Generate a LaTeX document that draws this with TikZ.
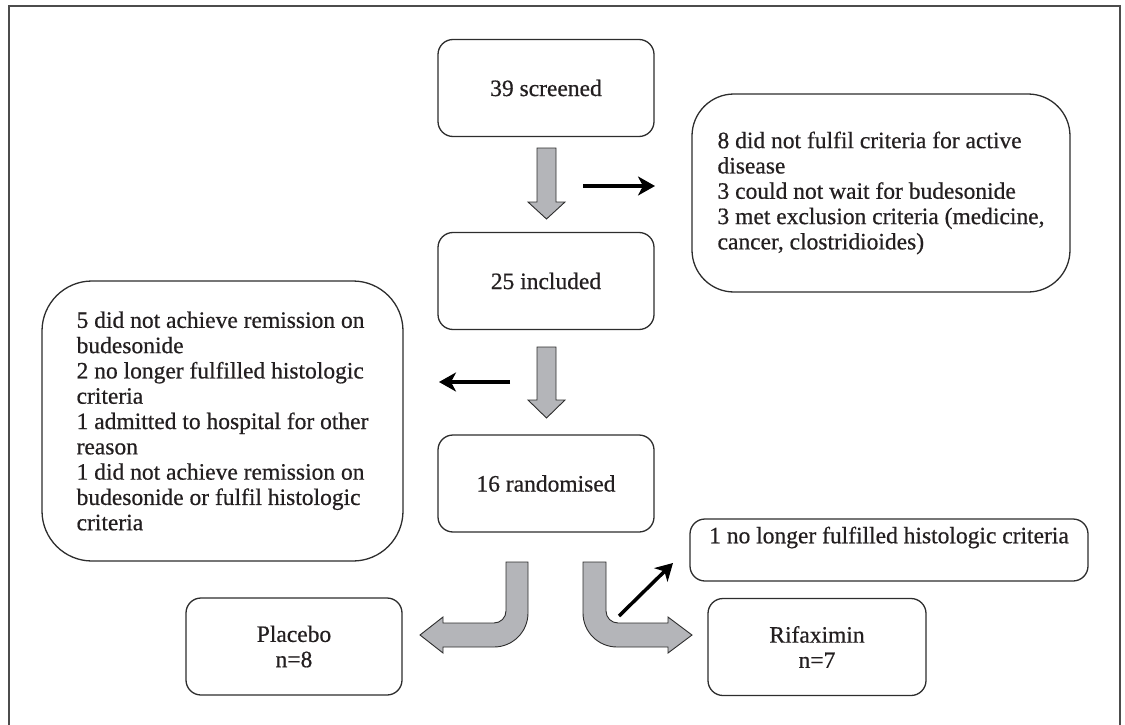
\documentclass[tikz,border=0pt]{standalone}
\usepackage{fontspec}
\setmainfont{Liberation Serif}[FakeBold=0.6]
\usetikzlibrary{arrows.meta}
\definecolor{boxline}{RGB}{45,45,45}
\definecolor{flowgray}{RGB}{180,181,185}
\definecolor{txt}{RGB}{35,31,32}
\begin{document}
\begin{tikzpicture}[x=1pt,y=-1pt,
  every node/.style={font=\fontsize{23.5}{25.3}\selectfont, text=txt},
  box/.style={draw=boxline, line width=1.3pt, rounded corners=15pt, minimum width=216pt, minimum height=97pt, align=center},
  exclbox/.style={draw=boxline, line width=1.3pt, align=left},
  flow/.style={fill=flowgray, draw=boxline, line width=0.9pt},
  pointer/.style={line width=3.5pt, -{Stealth[length=17pt,width=19pt,inset=5pt]}}]
  \useasboundingbox (0,0) rectangle (1125,725);
  \draw[line width=2pt, draw=black!70] (8.5,730) -- (8.5,6) -- (1119.5,6) -- (1119.5,730);

  \node[box] (screened) at (546,88) {39 screened};
  \node[box] (included) at (546,281) {25 included};
  \node[box] (random) at (546,483.5) {16 randomised};
  \node[box] (placebo) at (294,646.5) {Placebo\\n=8};
  \node[box, minimum width=218pt] (rifax) at (817,647) {Rifaximin\\n=7};

  \node[exclbox, minimum width=378pt, minimum height=198pt, rounded corners=42pt] (excla) at (881,193)
    {8 did not fulfil criteria for active\\disease\\3 could not wait for budesonide\\3 met exclusion criteria (medicine,\\cancer, clostridioides)};
  \node[exclbox, minimum width=361pt, minimum height=280pt, rounded corners=50pt] (exclb) at (222.5,421)
    {5 did not achieve remission on\\budesonide\\2 no longer fulfilled histologic\\criteria\\1 admitted to hospital for other\\reason\\1 did not achieve remission on\\budesonide or fulfil histologic\\criteria};
  \node[exclbox, minimum width=398pt, minimum height=62pt, rounded corners=15pt, text depth=30pt] (exclc) at (889,550)
    {1 no longer fulfilled histologic criteria};

  \draw[flow] (537,148) -- (556,148) -- (556,202) -- (565,202) -- (546.5,219) -- (528,202) -- (537,202) -- cycle;
  \draw[flow] (537,347) -- (556,347) -- (556,400) -- (565,400) -- (546.5,418) -- (528,400) -- (537,400) -- cycle;
  \draw[flow] (528,562) -- (528,613) .. controls (528,631.8) and (512.8,647) .. (494,647) -- (443,647) -- (443,653)
    -- (420,635) -- (443,617) -- (443,623) -- (494,623) .. controls (500.6,623) and (506,617.6) .. (506,611) -- (506,562) -- cycle;
  \draw[flow] (583,562) -- (583,613) .. controls (583,631.8) and (598.2,647) .. (617,647) -- (668,647) -- (668,653)
    -- (692,635) -- (668,617) -- (668,623) -- (618,623) .. controls (611.4,623) and (606,617.6) .. (606,611) -- (606,562) -- cycle;

  \coordinate (outa) at (583,186);
  \coordinate (ina) at (655,186);
  \coordinate (outb) at (510,382);
  \coordinate (inb) at (439,382);
  \coordinate (outc) at (619,616);
  \coordinate (inc) at (673,563);
  \draw[pointer] (outa) -- (ina);
  \draw[pointer] (outb) -- (inb);
  \draw[pointer] (outc) -- (inc);
\end{tikzpicture}
\end{document}
